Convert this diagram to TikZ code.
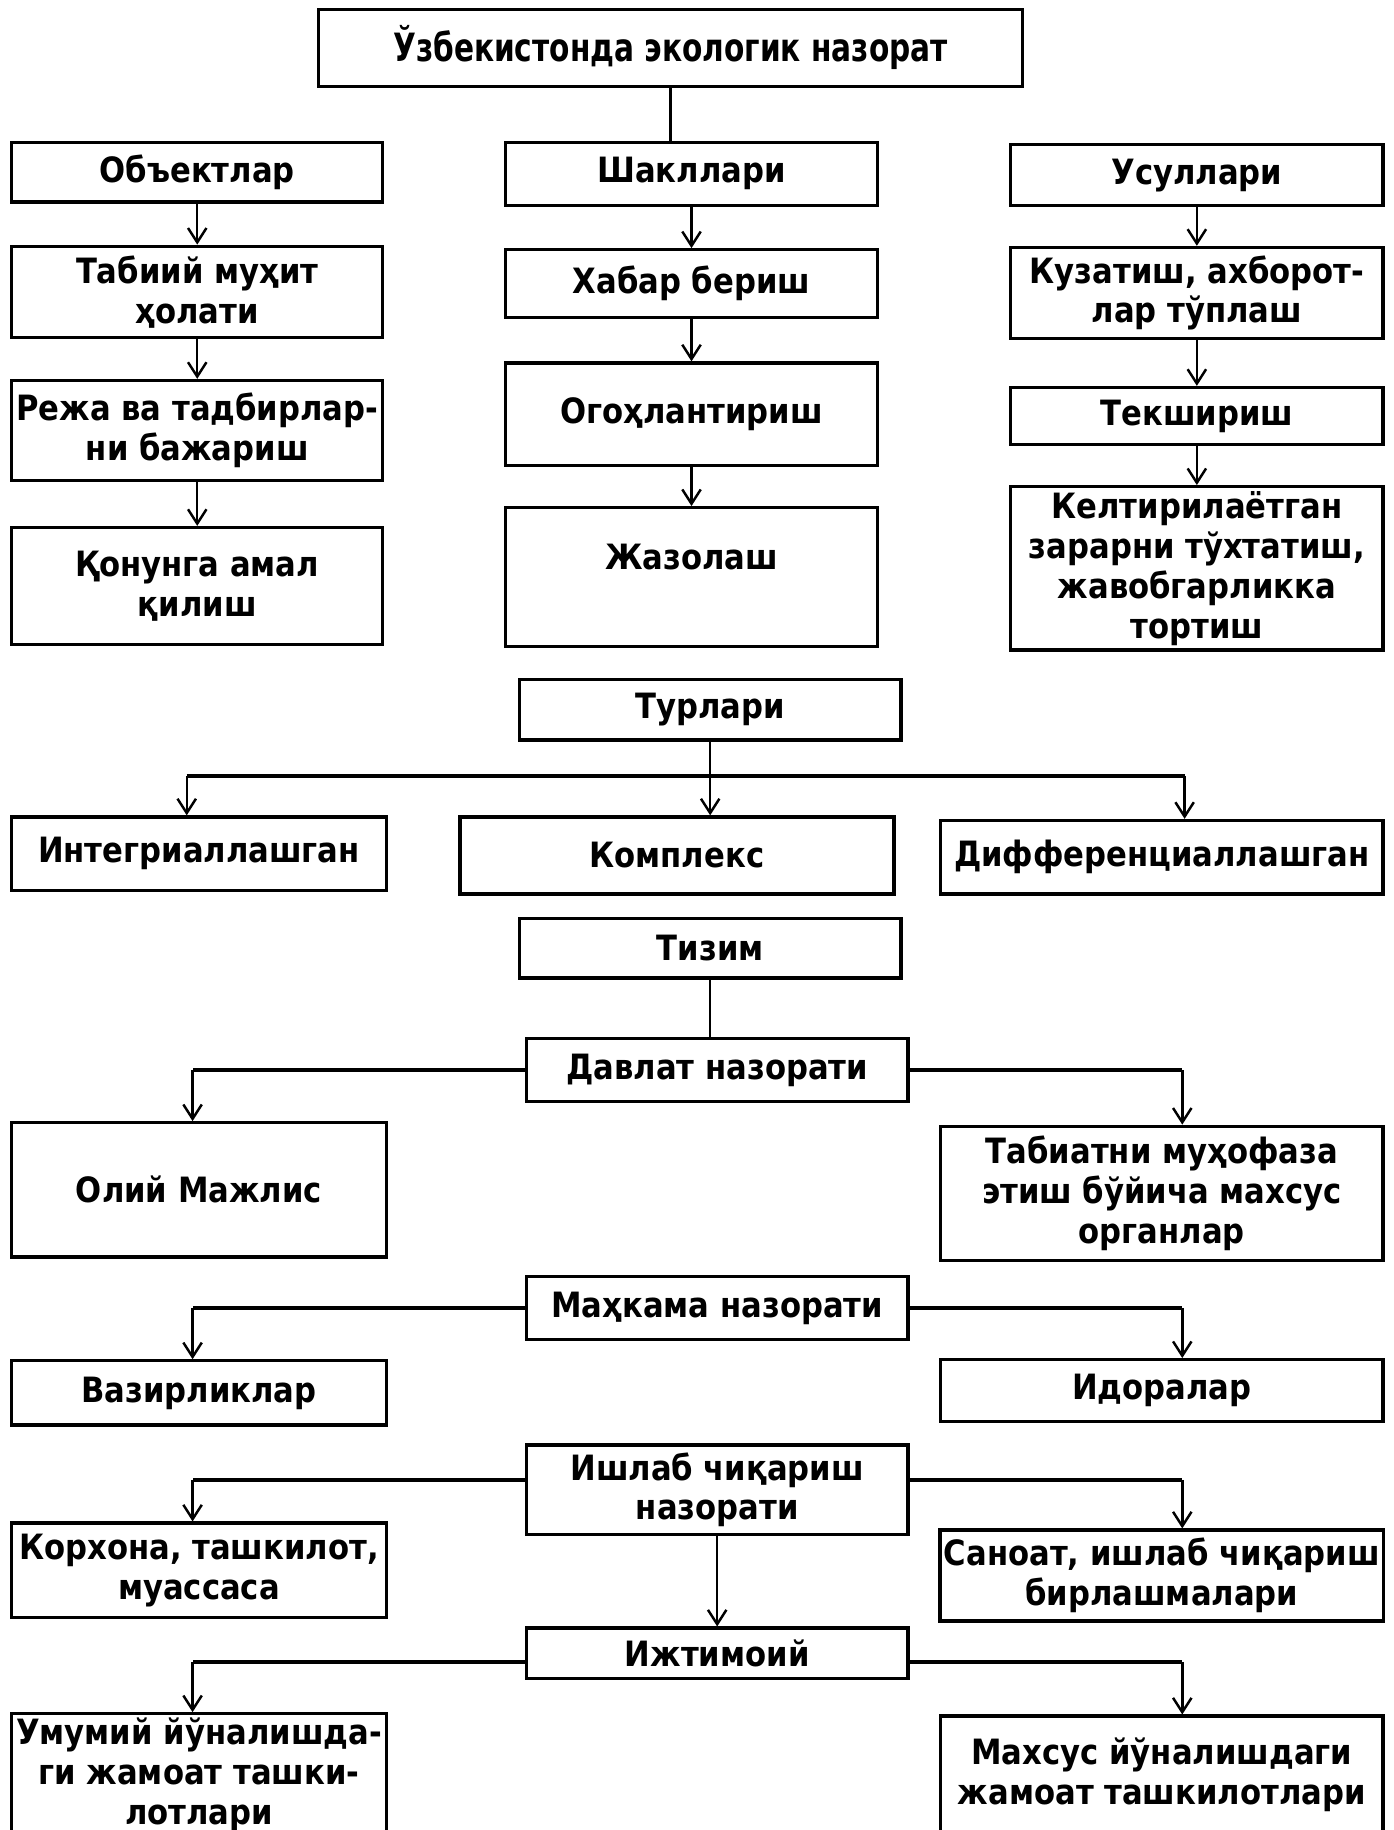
\documentclass[tikz,border=0pt]{standalone}
\usepackage{fontspec}
\usetikzlibrary{arrows.meta}
\setmainfont{DejaVu Sans}[FakeStretch=0.88]
\newfontfamily\titlefont{DejaVu Sans}[FakeStretch=0.76]
\begin{document}
\begin{tikzpicture}[x=0.02cm,y=-0.02cm,
	>={Straight Barb[length=7pt,width=9pt]},
	box/.style={draw,line width=1.6pt,align=center,inner sep=2pt,
		font=\fontsize{17}{19.5}\selectfont\bfseries},
	colA/.style={box,minimum width=6.36cm},
	colB/.style={box,minimum width=6.38cm},
	midbox/.style={box,minimum width=6.54cm},
	lbox/.style={box,minimum width=6.42cm},
	rbox/.style={box,minimum width=7.58cm},
	link/.style={line width=1.2pt},
	branch/.style={line width=2pt}]
	\useasboundingbox (0,0) rectangle (1194,1568);
	\fill[white] (0,0) rectangle (1194,1568);

	\node[box,minimum width=12.06cm,minimum height=1.32cm,font=\fontsize{19}{21}\selectfont\titlefont\bfseries] (top) at (574.5,41) {Ўзбекистонда экологик назорат};

	\node[colA,minimum height=1.02cm] (obj) at (169,147.5) {Объектлар};
	\node[colA,minimum height=1.56cm] (tabiiy) at (169,250) {Табиий муҳит\\ҳолати};
	\node[colA,minimum height=1.72cm] (reja) at (169,369) {Режа ва тадбирлар-\\ни бажариш};
	\node[colA,minimum height=2cm] (qonun) at (169,502) {Қонунга амал\\қилиш};

	\node[colB,minimum height=1.08cm] (shak) at (592.5,149) {Шакллари};
	\node[colB,minimum height=1.16cm] (xabar) at (592.5,243) {Хабар бериш};
	\node[colB,minimum height=1.76cm] (ogoh) at (592.5,355) {Огоҳлантириш};
	\node[colB,minimum height=2.38cm] (jazo) at (592.5,494.5) {Жазолаш\\ \mbox{}};

	\node[colB,minimum height=1.04cm] (usul) at (1025.5,150) {Усуллари};
	\node[colB,minimum height=1.56cm] (kuzat) at (1025.5,251) {Кузатиш, ахборот-\\лар тўплаш};
	\node[colB,minimum height=0.98cm] (teksh) at (1025.5,356.5) {Текшириш};
	\node[colB,minimum height=2.8cm] (keltir) at (1025.5,487) {Келтирилаётган\\зарарни тўхтатиш,\\жавобгарликка\\тортиш};

	\draw[link] (top.south) -- (top.south |- shak.north);
	\draw[link,->] (obj) -- (tabiiy);
	\draw[link,->] (tabiiy) -- (reja);
	\draw[link,->] (reja) -- (qonun);
	\draw[link,->] (shak) -- (xabar);
	\draw[link,->] (xabar) -- (ogoh);
	\draw[link,->] (ogoh) -- (jazo);
	\draw[link,->] (usul) -- (kuzat);
	\draw[link,->] (kuzat) -- (teksh);
	\draw[link,->] (teksh) -- (keltir);

	\node[midbox,minimum height=1.04cm] (turlari) at (608.5,608) {Турлари};
	\node[lbox,minimum height=1.26cm] (integ) at (170.5,731.5) {Интегриаллашган};
	\node[box,minimum width=7.44cm,minimum height=1.32cm] (kompl) at (580,733) {Комплекс};
	\node[rbox,minimum height=1.26cm] (diff) at (995.5,734.5) {Дифференциаллашган};

	\coordinate (tl) at (160,665);
	\coordinate (tr) at (1015,665);
	\draw[link] (turlari.south) -- (turlari.south |- tl);
	\draw[branch] (tl) -- (tr);
	\draw[link,->] (tl) -- (tl |- integ.north);
	\draw[link,->] (turlari.south |- tl) -- (turlari.south |- kompl.north);
	\draw[link,->] (tr) -- (tr |- diff.north);

	\node[midbox,minimum height=1.02cm] (tizim) at (608.5,812.5) {Тизим};
	\node[midbox,minimum height=1.08cm] (davlat) at (614.5,917) {Давлат назорати};
	\node[lbox,minimum height=2.3cm] (oliy) at (170.5,1019.5) {Олий Мажлис};
	\node[rbox,minimum height=2.3cm] (tabiat) at (995.5,1022.5) {Табиатни муҳофаза\\этиш бўйича махсус\\органлар};

	\draw[link] (tizim) -- (tizim.south |- davlat.north);
	\draw[branch] (davlat.west) -- (davlat.west -| 165,0);
	\draw[link,->] (davlat.west -| 165,0) -- (165,0 |- oliy.north);
	\draw[branch] (davlat.east) -- (davlat.east -| 1013,0);
	\draw[link,->] (davlat.east -| 1013,0) -- (1013,0 |- tabiat.north);

	\node[midbox,minimum height=1.08cm] (mahkama) at (614.5,1121) {Маҳкама назорати};
	\node[lbox,minimum height=1.1cm] (vazir) at (170.5,1193.5) {Вазирликлар};
	\node[rbox,minimum height=1.06cm] (idora) at (995.5,1191.5) {Идоралар};

	\draw[branch] (mahkama.west) -- (mahkama.west -| 165,0);
	\draw[link,->] (mahkama.west -| 165,0) -- (165,0 |- vazir.north);
	\draw[branch] (mahkama.east) -- (mahkama.east -| 1013,0);
	\draw[link,->] (mahkama.east -| 1013,0) -- (1013,0 |- idora.north);

	\node[midbox,minimum height=1.54cm] (ishlab) at (614.5,1276.5) {Ишлаб чиқариш\\назорати};
	\node[lbox,minimum height=1.62cm] (korxona) at (170.5,1345.5) {Корхона, ташкилот,\\муассаса};
	\node[rbox,minimum height=1.56cm] (sanoat) at (995.5,1350) {Саноат, ишлаб чиқариш\\бирлашмалари};

	\coordinate (il) at (165,1268);
	\coordinate (ir) at (1013,1268);
	\draw[branch] (ishlab.west |- il) -- (il);
	\draw[link,->] (il) -- (il |- korxona.north);
	\draw[branch] (ishlab.east |- ir) -- (ir);
	\draw[link,->] (ir) -- (ir |- sanoat.north);

	\node[midbox,minimum height=0.86cm] (ijtimoiy) at (614.5,1416.5) {Ижтимоий};
	\node[lbox,minimum height=2cm,anchor=north] (umumiy) at (170.5,1467) {Умумий йўналишда-\\ги жамоат ташки-\\лотлари};
	\node[rbox,minimum height=2cm,anchor=north] (maxsus) at (995.5,1469) {Махсус йўналишдаги\\жамоат ташкилотлари};

	\draw[link,->] (ishlab) -- (ishlab.south |- ijtimoiy.north);
	\coordinate (jl) at (165,1424);
	\coordinate (jr) at (1013,1424);
	\draw[branch] (ijtimoiy.west |- jl) -- (jl);
	\draw[link,->] (jl) -- (jl |- umumiy.north);
	\draw[branch] (ijtimoiy.east |- jr) -- (jr);
	\draw[link,->] (jr) -- (jr |- maxsus.north);
\end{tikzpicture}
\end{document}
